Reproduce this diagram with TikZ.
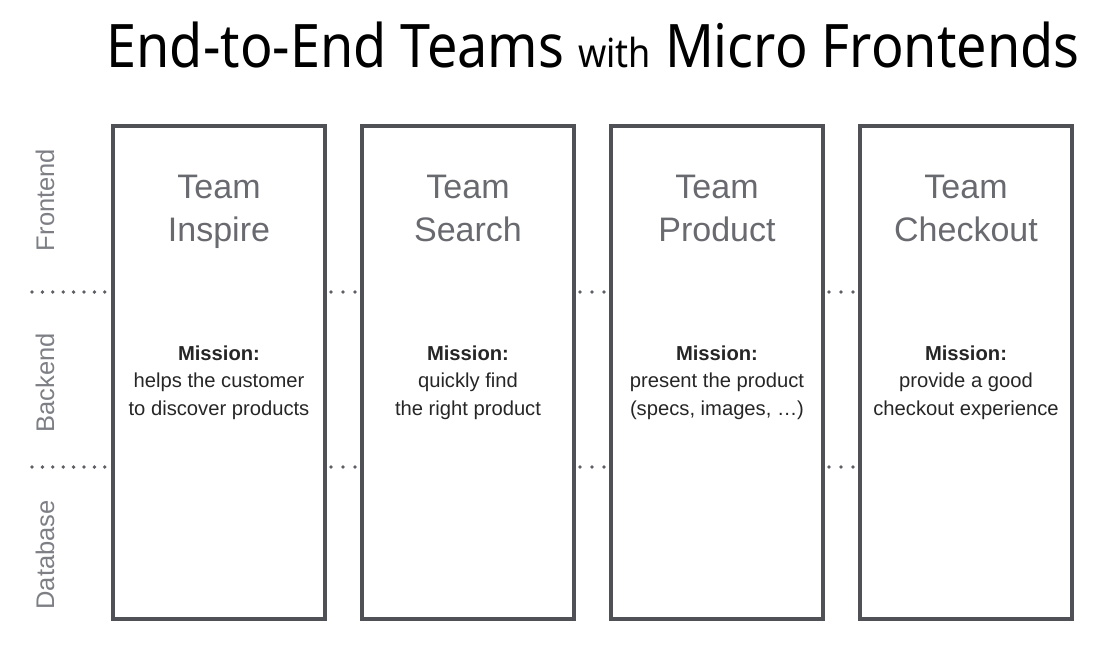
\documentclass[tikz,border=0pt]{standalone}
\usepackage{fontspec}
\setmainfont{Liberation Sans}
\newfontfamily\titlefont{Noto Sans}
\usetikzlibrary{positioning}
\definecolor{framegray}{HTML}{505157}
\definecolor{headgray}{HTML}{696A70}
\definecolor{layergray}{HTML}{7E7F85}
\definecolor{dotgray}{HTML}{5E5F65}

\begin{document}
\begin{tikzpicture}[
    x=1pt, y=-1pt,
    node distance=33pt,
    team/.style={rectangle, draw=framegray, line width=4pt, minimum width=212pt, minimum height=493pt, inner sep=0pt},
    head/.style={align=center, inner sep=0pt, text=headgray, font=\fontsize{34}{43}\selectfont},
    mission/.style={align=center, inner sep=0pt, text=black!85, font=\fontsize{20.2}{27.5}\selectfont},
    layer/.style={rotate=90, inner sep=0pt, text=layergray, font=\fontsize{25.5}{30}\selectfont},
    dots/.style={dotgray, line width=3.8pt, line cap=round, dash pattern=on 0pt off 10.4pt}
]
\useasboundingbox (0,0) rectangle (1098,648);
\node[font=\titlefont\fontsize{60}{70}\selectfont, inner sep=0pt] (title) at (593,45)
  {\scalebox{0.9}[1]{End-to-End Teams {\fontsize{40}{48}\selectfont with} Micro Frontends}};

\node[team] (ti) at (219,372.5) {};
\node[team, right=of ti] (ts) {};
\node[team, right=of ts] (tp) {};
\node[team, right=of tp] (tc) {};

\node[head, below=51pt of ti.north] (hi) {Team\\Inspire};
\node[head, below=51pt of ts.north] (hs) {Team\\Search};
\node[head, below=51pt of tp.north] (hp) {Team\\Product};
\node[head, below=51pt of tc.north] (hc) {Team\\Checkout};

\node[mission] (mi) at ([yshift=-10pt]ti.center) {\textbf{Mission:}\\helps the customer\\to discover products};
\node[mission] (ms) at ([yshift=-10pt]ts.center) {\textbf{Mission:}\\quickly find\\the right product};
\node[mission] (mp) at ([yshift=-10pt]tp.center) {\textbf{Mission:}\\present the product\\(specs, images, \dots)};
\node[mission] (mc) at ([yshift=-10pt]tc.center) {\textbf{Mission:}\\provide a good\\checkout experience};

\node[layer] (fe) at (45,200) {Frontend};
\node[layer] (be) at (45,383) {Backend};
\node[layer] (db) at (45,555) {Database};

% layer borders
\coordinate (fb) at (32,292);
\coordinate (bd) at (32,467);
\foreach \c in {fb,bd}{
  \draw[dots, shorten >=6pt] (\c) -- (\c -| ti.west);
  \draw[dots, dash pattern=on 0pt off 12pt, shorten <=4pt, shorten >=4pt] (\c -| ti.east) -- (\c -| ts.west);
  \draw[dots, dash pattern=on 0pt off 12pt, shorten <=4pt, shorten >=4pt] (\c -| ts.east) -- (\c -| tp.west);
  \draw[dots, dash pattern=on 0pt off 12pt, shorten <=4pt, shorten >=4pt] (\c -| tp.east) -- (\c -| tc.west);
}
\end{tikzpicture}
\end{document}
